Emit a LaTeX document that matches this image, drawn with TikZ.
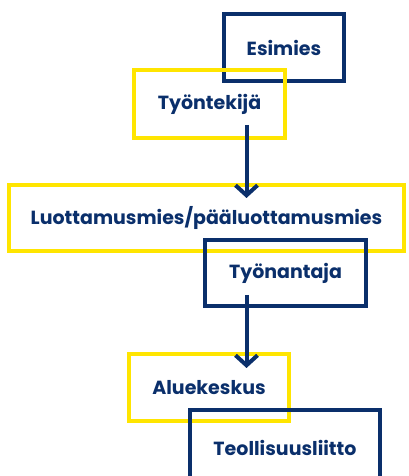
\documentclass[tikz,border=0pt]{standalone}
\usepackage{fontspec}
\newfontfamily\boxfont{Poppins}
\usepackage{tikz}
\usetikzlibrary{arrows.meta}
\definecolor{navy}{HTML}{0A2F6B}
\definecolor{ylw}{HTML}{FFE500}
\tikzset{
  nv/.style={draw=navy,line width=4pt,inner sep=0pt,text=navy,
    font=\boxfont\bfseries\fontsize{19}{22}\selectfont},
  yl/.style={nv,draw=ylw},
  arr/.style={navy,line width=4pt,-{Straight Barb[length=10pt,width=22pt]}}
}

\begin{document}
\begin{tikzpicture}[x=1pt,y=1pt]
\useasboundingbox (0,0) rectangle (409,476);
\clip (0,0) rectangle (409,476);
\node[nv,minimum width=120,minimum height=67] (esimies) at (284,428.5) {Esimies};
\node[yl,minimum width=151,minimum height=68] (tyontekija) at (209.5,372) {Työntekijä};
\node[yl,minimum width=395,minimum height=66] (luottamus) at (206.5,258) {Luottamusmies/pääluottamusmies};
\node[nv,minimum width=161,minimum height=66] (tyonantaja) at (285.5,203) {Työnantaja};
\node[yl,minimum width=160,minimum height=67] (aluekeskus) at (209,88.5) {Aluekeskus};
\node[nv,minimum width=190,minimum height=76] (liitto) at (285,28) {Teollisuusliitto};
% nuolet
\draw[arr] (246.5,351) -- (246.5,278);
\draw[arr] (246.5,181) -- (246.5,108);
\end{tikzpicture}
\end{document}
